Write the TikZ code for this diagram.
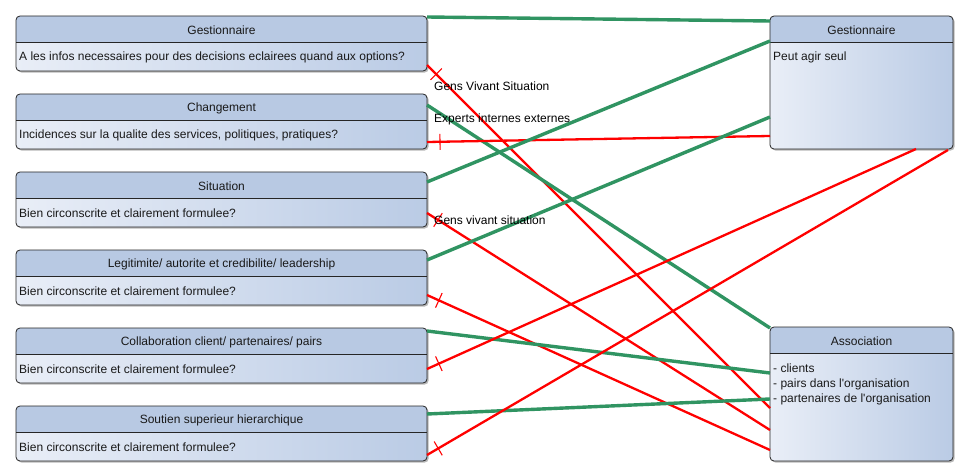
\documentclass[tikz,border=0pt]{standalone}
\usepackage{fontspec}
\setmainfont{Liberation Sans}
\usetikzlibrary{calc,shadows,decorations.markings}
\definecolor{hdr}{RGB}{184,201,227}
\definecolor{bodyL}{RGB}{233,238,247}
\definecolor{bodyR}{RGB}{186,203,229}
\definecolor{lgreen}{RGB}{48,148,98}
\definecolor{lred}{RGB}{255,0,0}
\definecolor{txt}{RGB}{25,25,25}
\tikzset{
  classbox/.style={rounded corners=4pt, left color=bodyL, right color=bodyR,
    inner sep=0pt, outer sep=0pt, anchor=north west,
    drop shadow={shadow xshift=1.6pt, shadow yshift=-1.6pt, opacity=0.28, fill=black}},
  boxline/.style={draw=black!85, line width=0.8pt},
  hdrtext/.style={inner sep=0pt, font=\fontsize{12}{14}\selectfont, text=txt},
  bodytext/.style={inner sep=0pt, anchor=base west, font=\fontsize{12}{14}\selectfont, text=txt},
  lbltext/.style={inner sep=0pt, anchor=west, font=\fontsize{12}{14}\selectfont, text=black},
  gline/.style={draw=lgreen, line width=3.4pt},
  rline/.style={draw=lred, line width=2.3pt,
    postaction={decorate, decoration={markings,
      mark=at position 13pt with {\draw[lred, line width=1.1pt] (0,-8pt) -- (0,8pt);}}}},
}
\newcommand{\umlbox}[6]{%
  \node[classbox, minimum width=#4pt, minimum height=#5pt] (#1) at (#2,#3) {};
  \begin{scope}
    \clip[rounded corners=4pt] (#1.north west) rectangle (#1.south east);
    \fill[hdr] (#1.north west) rectangle ($(#1.north east)+(0,26)$);
  \end{scope}
  \draw[boxline, rounded corners=4pt] (#1.north west) rectangle (#1.south east);
  \draw[boxline] ($(#1.north west)+(0,26)$) -- ($(#1.north east)+(0,26)$);
  \node[hdrtext] (#1h) at ($(#1.north)+(0,14)$) {#6};
}
\begin{document}
\begin{tikzpicture}[x=1pt,y=-1pt]
\useasboundingbox (0,0) rectangle (967,476);
\fill[white] (0,0) rectangle (967,476);

\umlbox{L1}{16}{16}{411}{55}{Gestionnaire}
\node[bodytext] (L1b) at ($(L1.north west)+(3,45)$) {A les infos necessaires pour des decisions eclairees quand aux options?};
\umlbox{L2}{16}{94}{411}{55}{Changement}
\node[bodytext] (L2b) at ($(L2.north west)+(3,45)$) {Incidences sur la qualite des services, politiques, pratiques?};
\umlbox{L3}{16}{172}{411}{55}{Situation}
\node[bodytext] (L3b) at ($(L3.north west)+(3,45)$) {Bien circonscrite et clairement formulee?};
\umlbox{L4}{16}{250}{411}{55}{Legitimite/ autorite et credibilite/ leadership}
\node[bodytext] (L4b) at ($(L4.north west)+(3,45)$) {Bien circonscrite et clairement formulee?};
\umlbox{L5}{16}{328}{411}{55}{Collaboration client/ partenaires/ pairs}
\node[bodytext] (L5b) at ($(L5.north west)+(3,45)$) {Bien circonscrite et clairement formulee?};
\umlbox{L6}{16}{406}{411}{55}{Soutien superieur hierarchique}
\node[bodytext] (L6b) at ($(L6.north west)+(3,45)$) {Bien circonscrite et clairement formulee?};

\umlbox{R1}{770}{16}{183}{133}{Gestionnaire}
\node[bodytext] (R1b) at ($(R1.north west)+(3,45)$) {Peut agir seul};
\umlbox{R2}{770}{327}{183}{134}{Association}
\node[bodytext] (R2a) at ($(R2.north west)+(3,45)$) {- clients};
\node[bodytext] (R2c) at ($(R2.north west)+(3,60)$) {- pairs dans l\textquotesingle organisation};
\node[bodytext] (R2d) at ($(R2.north west)+(3,75)$) {- partenaires de l\textquotesingle organisation};

% connectors
\draw[gline] ($(L1.north east)+(0,1)$) -- ($(R1.north west)+(0,5)$);
\draw[rline] ($(L1.north east)+(0,49)$) -- ($(R2.north west)+(0,81)$);
\draw[gline] ($(L2.north east)+(0,11)$) -- ($(R2.north west)+(0,1)$);
\draw[rline] ($(L2.north east)+(0,48)$) -- ($(R1.north west)+(0,120)$);
\draw[gline] ($(L3.north east)+(0,10)$) -- ($(R1.north west)+(0,25)$);
\draw[rline] ($(L3.north east)+(0,41)$) -- ($(R2.north west)+(0,103)$);
\draw[gline] ($(L4.north east)+(0,10)$) -- ($(R1.north west)+(0,101)$);
\draw[rline] ($(L4.north east)+(0,45)$) -- ($(R2.north west)+(0,123)$);
\draw[gline] ($(L5.north east)+(0,3)$) -- ($(R2.north west)+(0,46)$);
\draw[rline] ($(L5.north east)+(0,41)$) -- ($(R1.south west)+(146,0)$);
\draw[gline] ($(L6.north east)+(0,8)$) -- ($(R2.north west)+(0,72)$);
\draw[rline] ($(L6.north east)+(0,49)$) -- ($(R1.south west)+(178,1)$);

% labels
\node[lbltext] (lab1) at (434,86) {Gens Vivant Situation};
\node[lbltext] (lab2) at (434,119) {Experts internes externes};
\node[lbltext] (lab3) at (434,220) {Gens vivant situation};
\end{tikzpicture}
\end{document}
